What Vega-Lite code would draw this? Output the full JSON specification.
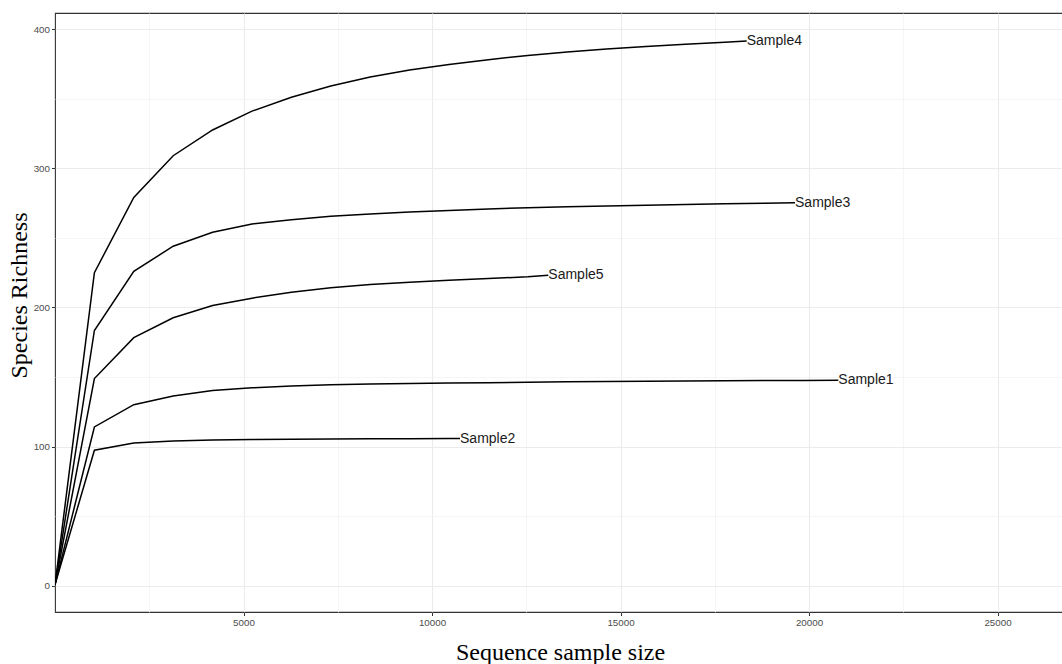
{
  "$schema": "https://vega.github.io/schema/vega-lite/v6.json",
  "autosize": "none",
  "padding": {"left": 55, "top": 13, "right": 0, "bottom": 52},
  "width": 1010,
  "height": 599,
  "background": "white",
  "config": {
    "view": {"stroke": "#333333", "strokeWidth": 1.1},
    "axis": {"domain": false, "labelFont": "Liberation Sans", "labelColor": "#4d4d4d", "labelFontSize": 9.8, "tickSize": 3.5, "tickColor": "#333333", "titleFont": "Liberation Serif", "titleFontWeight": "normal", "titleFontSize": 24, "titleColor": "#000000"}
  },
  "data": {"values": [
    {"sample": "Sample4", "size": 1, "richness": 1},
    {"sample": "Sample4", "size": 1045, "richness": 225},
    {"sample": "Sample4", "size": 2090, "richness": 279},
    {"sample": "Sample4", "size": 3135, "richness": 309},
    {"sample": "Sample4", "size": 4180, "richness": 327.5},
    {"sample": "Sample4", "size": 5225, "richness": 341},
    {"sample": "Sample4", "size": 6270, "richness": 351},
    {"sample": "Sample4", "size": 7315, "richness": 359},
    {"sample": "Sample4", "size": 8360, "richness": 365.5},
    {"sample": "Sample4", "size": 9405, "richness": 370.5},
    {"sample": "Sample4", "size": 10450, "richness": 374.5},
    {"sample": "Sample4", "size": 11495, "richness": 378},
    {"sample": "Sample4", "size": 12540, "richness": 381},
    {"sample": "Sample4", "size": 13585, "richness": 383.5},
    {"sample": "Sample4", "size": 14630, "richness": 385.6},
    {"sample": "Sample4", "size": 15675, "richness": 387.4},
    {"sample": "Sample4", "size": 16720, "richness": 389.1},
    {"sample": "Sample4", "size": 17765, "richness": 390.5},
    {"sample": "Sample4", "size": 18347, "richness": 391.4},
    {"sample": "Sample3", "size": 1, "richness": 1},
    {"sample": "Sample3", "size": 1045, "richness": 183.5},
    {"sample": "Sample3", "size": 2090, "richness": 226},
    {"sample": "Sample3", "size": 3135, "richness": 244},
    {"sample": "Sample3", "size": 4180, "richness": 254},
    {"sample": "Sample3", "size": 5225, "richness": 260},
    {"sample": "Sample3", "size": 6270, "richness": 263},
    {"sample": "Sample3", "size": 7315, "richness": 265.5},
    {"sample": "Sample3", "size": 8360, "richness": 267.2},
    {"sample": "Sample3", "size": 9405, "richness": 268.5},
    {"sample": "Sample3", "size": 10450, "richness": 269.7},
    {"sample": "Sample3", "size": 11495, "richness": 270.8},
    {"sample": "Sample3", "size": 12540, "richness": 271.6},
    {"sample": "Sample3", "size": 13585, "richness": 272.3},
    {"sample": "Sample3", "size": 14630, "richness": 272.9},
    {"sample": "Sample3", "size": 15675, "richness": 273.5},
    {"sample": "Sample3", "size": 16720, "richness": 274},
    {"sample": "Sample3", "size": 17765, "richness": 274.5},
    {"sample": "Sample3", "size": 18810, "richness": 274.9},
    {"sample": "Sample3", "size": 19629, "richness": 275.3},
    {"sample": "Sample5", "size": 1, "richness": 1},
    {"sample": "Sample5", "size": 1045, "richness": 149},
    {"sample": "Sample5", "size": 2090, "richness": 178.3},
    {"sample": "Sample5", "size": 3135, "richness": 192.6},
    {"sample": "Sample5", "size": 4180, "richness": 201.4},
    {"sample": "Sample5", "size": 5225, "richness": 206.7},
    {"sample": "Sample5", "size": 6270, "richness": 211},
    {"sample": "Sample5", "size": 7315, "richness": 214.1},
    {"sample": "Sample5", "size": 8360, "richness": 216.5},
    {"sample": "Sample5", "size": 9405, "richness": 218.2},
    {"sample": "Sample5", "size": 10450, "richness": 219.6},
    {"sample": "Sample5", "size": 11495, "richness": 220.8},
    {"sample": "Sample5", "size": 12540, "richness": 222},
    {"sample": "Sample5", "size": 13085, "richness": 223.2},
    {"sample": "Sample1", "size": 1, "richness": 1},
    {"sample": "Sample1", "size": 1045, "richness": 114.2},
    {"sample": "Sample1", "size": 2090, "richness": 130.2},
    {"sample": "Sample1", "size": 3135, "richness": 136.4},
    {"sample": "Sample1", "size": 4180, "richness": 140.3},
    {"sample": "Sample1", "size": 5225, "richness": 142.3},
    {"sample": "Sample1", "size": 6270, "richness": 143.7},
    {"sample": "Sample1", "size": 7315, "richness": 144.5},
    {"sample": "Sample1", "size": 8360, "richness": 145},
    {"sample": "Sample1", "size": 9405, "richness": 145.4},
    {"sample": "Sample1", "size": 10450, "richness": 145.7},
    {"sample": "Sample1", "size": 11495, "richness": 146},
    {"sample": "Sample1", "size": 12540, "richness": 146.3},
    {"sample": "Sample1", "size": 13585, "richness": 146.6},
    {"sample": "Sample1", "size": 14630, "richness": 146.8},
    {"sample": "Sample1", "size": 15675, "richness": 147},
    {"sample": "Sample1", "size": 16720, "richness": 147.2},
    {"sample": "Sample1", "size": 17765, "richness": 147.4},
    {"sample": "Sample1", "size": 18810, "richness": 147.5},
    {"sample": "Sample1", "size": 19855, "richness": 147.6},
    {"sample": "Sample1", "size": 20777, "richness": 147.7},
    {"sample": "Sample2", "size": 1, "richness": 1},
    {"sample": "Sample2", "size": 1045, "richness": 97.5},
    {"sample": "Sample2", "size": 2090, "richness": 102.7},
    {"sample": "Sample2", "size": 3135, "richness": 104.2},
    {"sample": "Sample2", "size": 4180, "richness": 104.9},
    {"sample": "Sample2", "size": 5225, "richness": 105.2},
    {"sample": "Sample2", "size": 6270, "richness": 105.4},
    {"sample": "Sample2", "size": 7315, "richness": 105.6},
    {"sample": "Sample2", "size": 8360, "richness": 105.7},
    {"sample": "Sample2", "size": 9405, "richness": 105.8},
    {"sample": "Sample2", "size": 10450, "richness": 105.9},
    {"sample": "Sample2", "size": 10743, "richness": 105.9}
  ]},
  "encoding": {
    "x": {"field": "size", "type": "quantitative", "scale": {"domain": [0, 26790], "nice": false, "zero": false},
      "axis": {"title": "Sequence sample size", "values": [2500, 5000, 7500, 10000, 12500, 15000, 17500, 20000, 22500, 25000], "format": "d",
        "labelExpr": "datum.value % 5000 === 0 ? datum.label : ''",
        "labelPadding": 2, "titleBaseline": "alphabetic", "titleY": 47,
        "gridColor": {"condition": {"test": "datum.value % 5000 === 0", "value": "#ebebeb"}, "value": "#f2f2f2"},
        "gridWidth": {"condition": {"test": "datum.value % 5000 === 0", "value": 1.1}, "value": 0.8},
        "tickOpacity": {"condition": {"test": "datum.value % 5000 === 0", "value": 1}, "value": 0}}},
    "y": {"field": "richness", "type": "quantitative", "scale": {"domain": [-18.7, 411.5], "nice": false, "zero": false},
      "axis": {"title": "Species Richness", "values": [0, 50, 100, 150, 200, 250, 300, 350, 400],
        "labelExpr": "datum.value % 100 === 0 ? datum.label : ''",
        "labelPadding": 2, "titleX": -29, "titleY": 282, "titleBaseline": "alphabetic", "titleAngle": -90,
        "gridColor": {"condition": {"test": "datum.value % 100 === 0", "value": "#ebebeb"}, "value": "#f2f2f2"},
        "gridWidth": {"condition": {"test": "datum.value % 100 === 0", "value": 1.1}, "value": 0.8},
        "tickOpacity": {"condition": {"test": "datum.value % 100 === 0", "value": 1}, "value": 0}}}
  },
  "layer": [
    {"mark": {"type": "line", "color": "#000000", "strokeWidth": 1.5, "clip": true},
     "encoding": {"detail": {"field": "sample"}, "order": {"field": "size"}}},
    {"transform": [
       {"joinaggregate": [{"op": "max", "field": "size", "as": "maxsize"}], "groupby": ["sample"]},
       {"filter": "datum.size === datum.maxsize"}
     ],
     "mark": {"type": "text", "align": "left", "baseline": "middle", "font": "Liberation Sans", "fontSize": 14, "color": "#1a1a1a", "dx": 0},
     "encoding": {"text": {"field": "sample"}}}
  ]
}
